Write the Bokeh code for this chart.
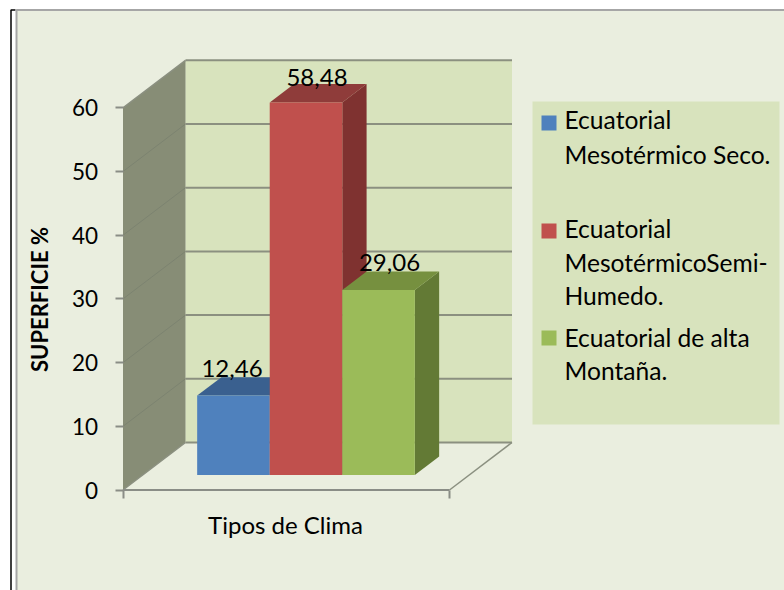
from bokeh.embed import file_html
from bokeh.resources import INLINE
from bokeh.plotting import figure
from bokeh.models import Range1d, FixedTicker
from bokeh.core.properties import value

# ---- data ----
series_names = [
    "Ecuatorial\nMesotérmico Seco.",
    "Ecuatorial\nMesotérmicoSemi-\nHumedo.",
    "Ecuatorial de alta\nMontaña.",
]
series_values = [12.46, 58.48, 29.06]
value_labels = ["12,46", "58,48", "29,06"]
y_ticks = [0, 10, 20, 30, 40, 50, 60]
front_colors = ["#4F81BD", "#C0504D", "#9BBB59"]
top_colors = ["#3A608F", "#8F3C3A", "#76903F"]
side_colors = ["#355A87", "#7F3230", "#637A35"]

# ---- frame geometry ----
W, H = 784, 590
OX, OY = 0, 0
PX_X0, PX_X1 = 122.5, 449.0      # page pixels of the category span, front plane
PX_Y0, PX_Y60 = 489.5, 107.3     # page pixels of value 0 and 60, front plane
X_PER_PX = 1 / (PX_X1 - PX_X0)
Y_PER_PX = 60 / (PX_Y0 - PX_Y60)


def dx(px):
    return (px - PX_X0) * X_PER_PX


def dy(py):
    return (PX_Y0 - py) * Y_PER_PX


DEPTH_X = 62.5 * X_PER_PX
DEPTH_Y = 47.5 * Y_PER_PX
Z0, Z1 = 0.316, 0.705
GAP = 1.5
N = len(series_values)
BAR_W = 1 / (N + GAP)
BAR_START = GAP / 2 * BAR_W


def proj(x, v, z):
    return x + z * DEPTH_X, v + z * DEPTH_Y


p = figure(
    width=W, height=H, output_backend="svg", toolbar_location=None,
    x_range=Range1d(dx(OX), dx(OX + W)), y_range=Range1d(dy(OY + H), dy(OY)),
    x_axis_location="below", y_axis_location="left",
    min_border=0, min_border_left=0, min_border_right=0, min_border_top=0, min_border_bottom=0,
    background_fill_color="white", border_fill_color="white",
)
p.outline_line_color = None
p.xgrid.visible = False
p.ygrid.visible = False

CHART_FILL = "#EAEEDF"
WALL_FILL = "#D8E3BD"
SIDE_FILL = "#878D76"
GRID = "#8B9080"
AXIS = "#8A8D86"

# page furniture: black frame and the chart area
p.line([dx(15), dx(10.5), dx(10.5)], [dy(9.5), dy(9.5), dy(595)], line_color="black", line_width=1.5)
p.quad(left=dx(16), right=dx(800), top=dy(9.5), bottom=dy(610),
       fill_color=CHART_FILL, line_color="#A6A6A6", line_width=2)

# back wall, side wall, floor
bx0, by0 = proj(0, 0, 1)
bx1, by60 = proj(1, 60, 1)
p.quad(left=bx0, right=bx1, bottom=by0, top=by60, fill_color=WALL_FILL, line_color=None)
p.patch([0, bx0, bx0, 0], [0, by0, by60, 60], fill_color=SIDE_FILL, line_color=None)

# gridlines
for t in y_ticks:
    _, yb = proj(0, t, 1)
    p.line([bx0, bx1], [yb, yb], line_color=GRID, line_width=2)
    p.line([0, bx0], [t, yb], line_color="#7C8370" if 0 < t < 60 else GRID,
           line_width=1 if 0 < t < 60 else 1.5)
# floor edges
p.line([1, bx1], [0, by0], line_color=GRID, line_width=1.5)
p.line([0, 1], [0, 0], line_color=AXIS, line_width=2)

# bars
for i, (v, fc, tc, sc) in enumerate(zip(series_values, front_colors, top_colors, side_colors)):
    x0 = BAR_START + i * BAR_W
    x1 = x0 + BAR_W
    fx0, fy0 = proj(x0, 0, Z0)
    fx1, fy1 = proj(x1, v, Z0)
    bx_0, by_top = proj(x0, v, Z1)
    bx_1, by_base = proj(x1, 0, Z1)
    p.patch([fx1, bx_1, bx_1, fx1], [fy0, by_base, by_top, fy1], fill_color=sc, line_color=None)
    p.patch([fx0, bx_0, bx_1, fx1], [fy1, by_top, by_top, fy1], fill_color=tc, line_color=None)
    p.quad(left=fx0, right=fx1, bottom=fy0, top=fy1, fill_color=fc, line_color=None)

# axes drawn on the front plane
yaxis = p.yaxis[0]
yaxis.fixed_location = 0
yaxis.ticker = FixedTicker(ticks=y_ticks)
yaxis.axis_line_color = None
yaxis.major_tick_line_color = AXIS
yaxis.major_tick_line_width = 2
yaxis.major_tick_out = 8
yaxis.major_tick_in = 0
yaxis.minor_tick_line_color = None
yaxis.major_label_standoff = 17
yaxis.major_label_text_font = "Lato"
yaxis.major_label_text_font_size = "22.5px"
yaxis.major_label_text_color = "black"

xaxis = p.xaxis[0]
xaxis.fixed_location = 0
xaxis.ticker = FixedTicker(ticks=[0, 1])
xaxis.axis_line_color = None
xaxis.major_tick_line_color = AXIS
xaxis.major_tick_line_width = 2
xaxis.major_tick_out = 8
xaxis.major_tick_in = 0
xaxis.minor_tick_line_color = None
xaxis.major_label_text_font_size = "0px"
xaxis.major_label_text_color = None

FONT = value("Lato")
# value labels (page pixel centres)
label_px = [231.5, 316.5, 389]
label_py = [368, 77, 262]
p.text([dx(a) for a in label_px], [dy(b) for b in label_py], text=value_labels,
       text_font=FONT, text_font_size="24px", text_color="black",
       text_align="center", text_baseline="middle")

# axis titles
p.text([dx(285)], [dy(524)], text=["Tipos de Clima"], text_font=FONT, text_font_size="24px",
       text_color="black", text_align="center", text_baseline="middle")
p.text([dx(39)], [dy(299)], text=["SUPERFICIE %"], text_font=FONT, text_font_size="22px",
       text_font_style="bold", text_color="black", text_align="center", text_baseline="middle",
       angle=1.5707963)

# legend
p.quad(left=dx(532), right=dx(779), top=dy(101), bottom=dy(424), fill_color=WALL_FILL, line_color=None)
swatch_py = [115, 223, 330]
text_py = [[119, 154], [228, 262, 295], [337, 370]]
for name, sw, tps, c in zip(series_names, swatch_py, text_py, front_colors):
    p.quad(left=dx(541), right=dx(556), top=dy(sw), bottom=dy(sw + 15), fill_color=c, line_color=None)
    lines = name.split("\n")
    p.text([dx(564)] * len(lines), [dy(t) for t in tps], text=lines, text_font=FONT,
           text_font_size="24.6px", text_color="black", text_align="left", text_baseline="middle")

open("out.html", "w").write(file_html(p, INLINE))
